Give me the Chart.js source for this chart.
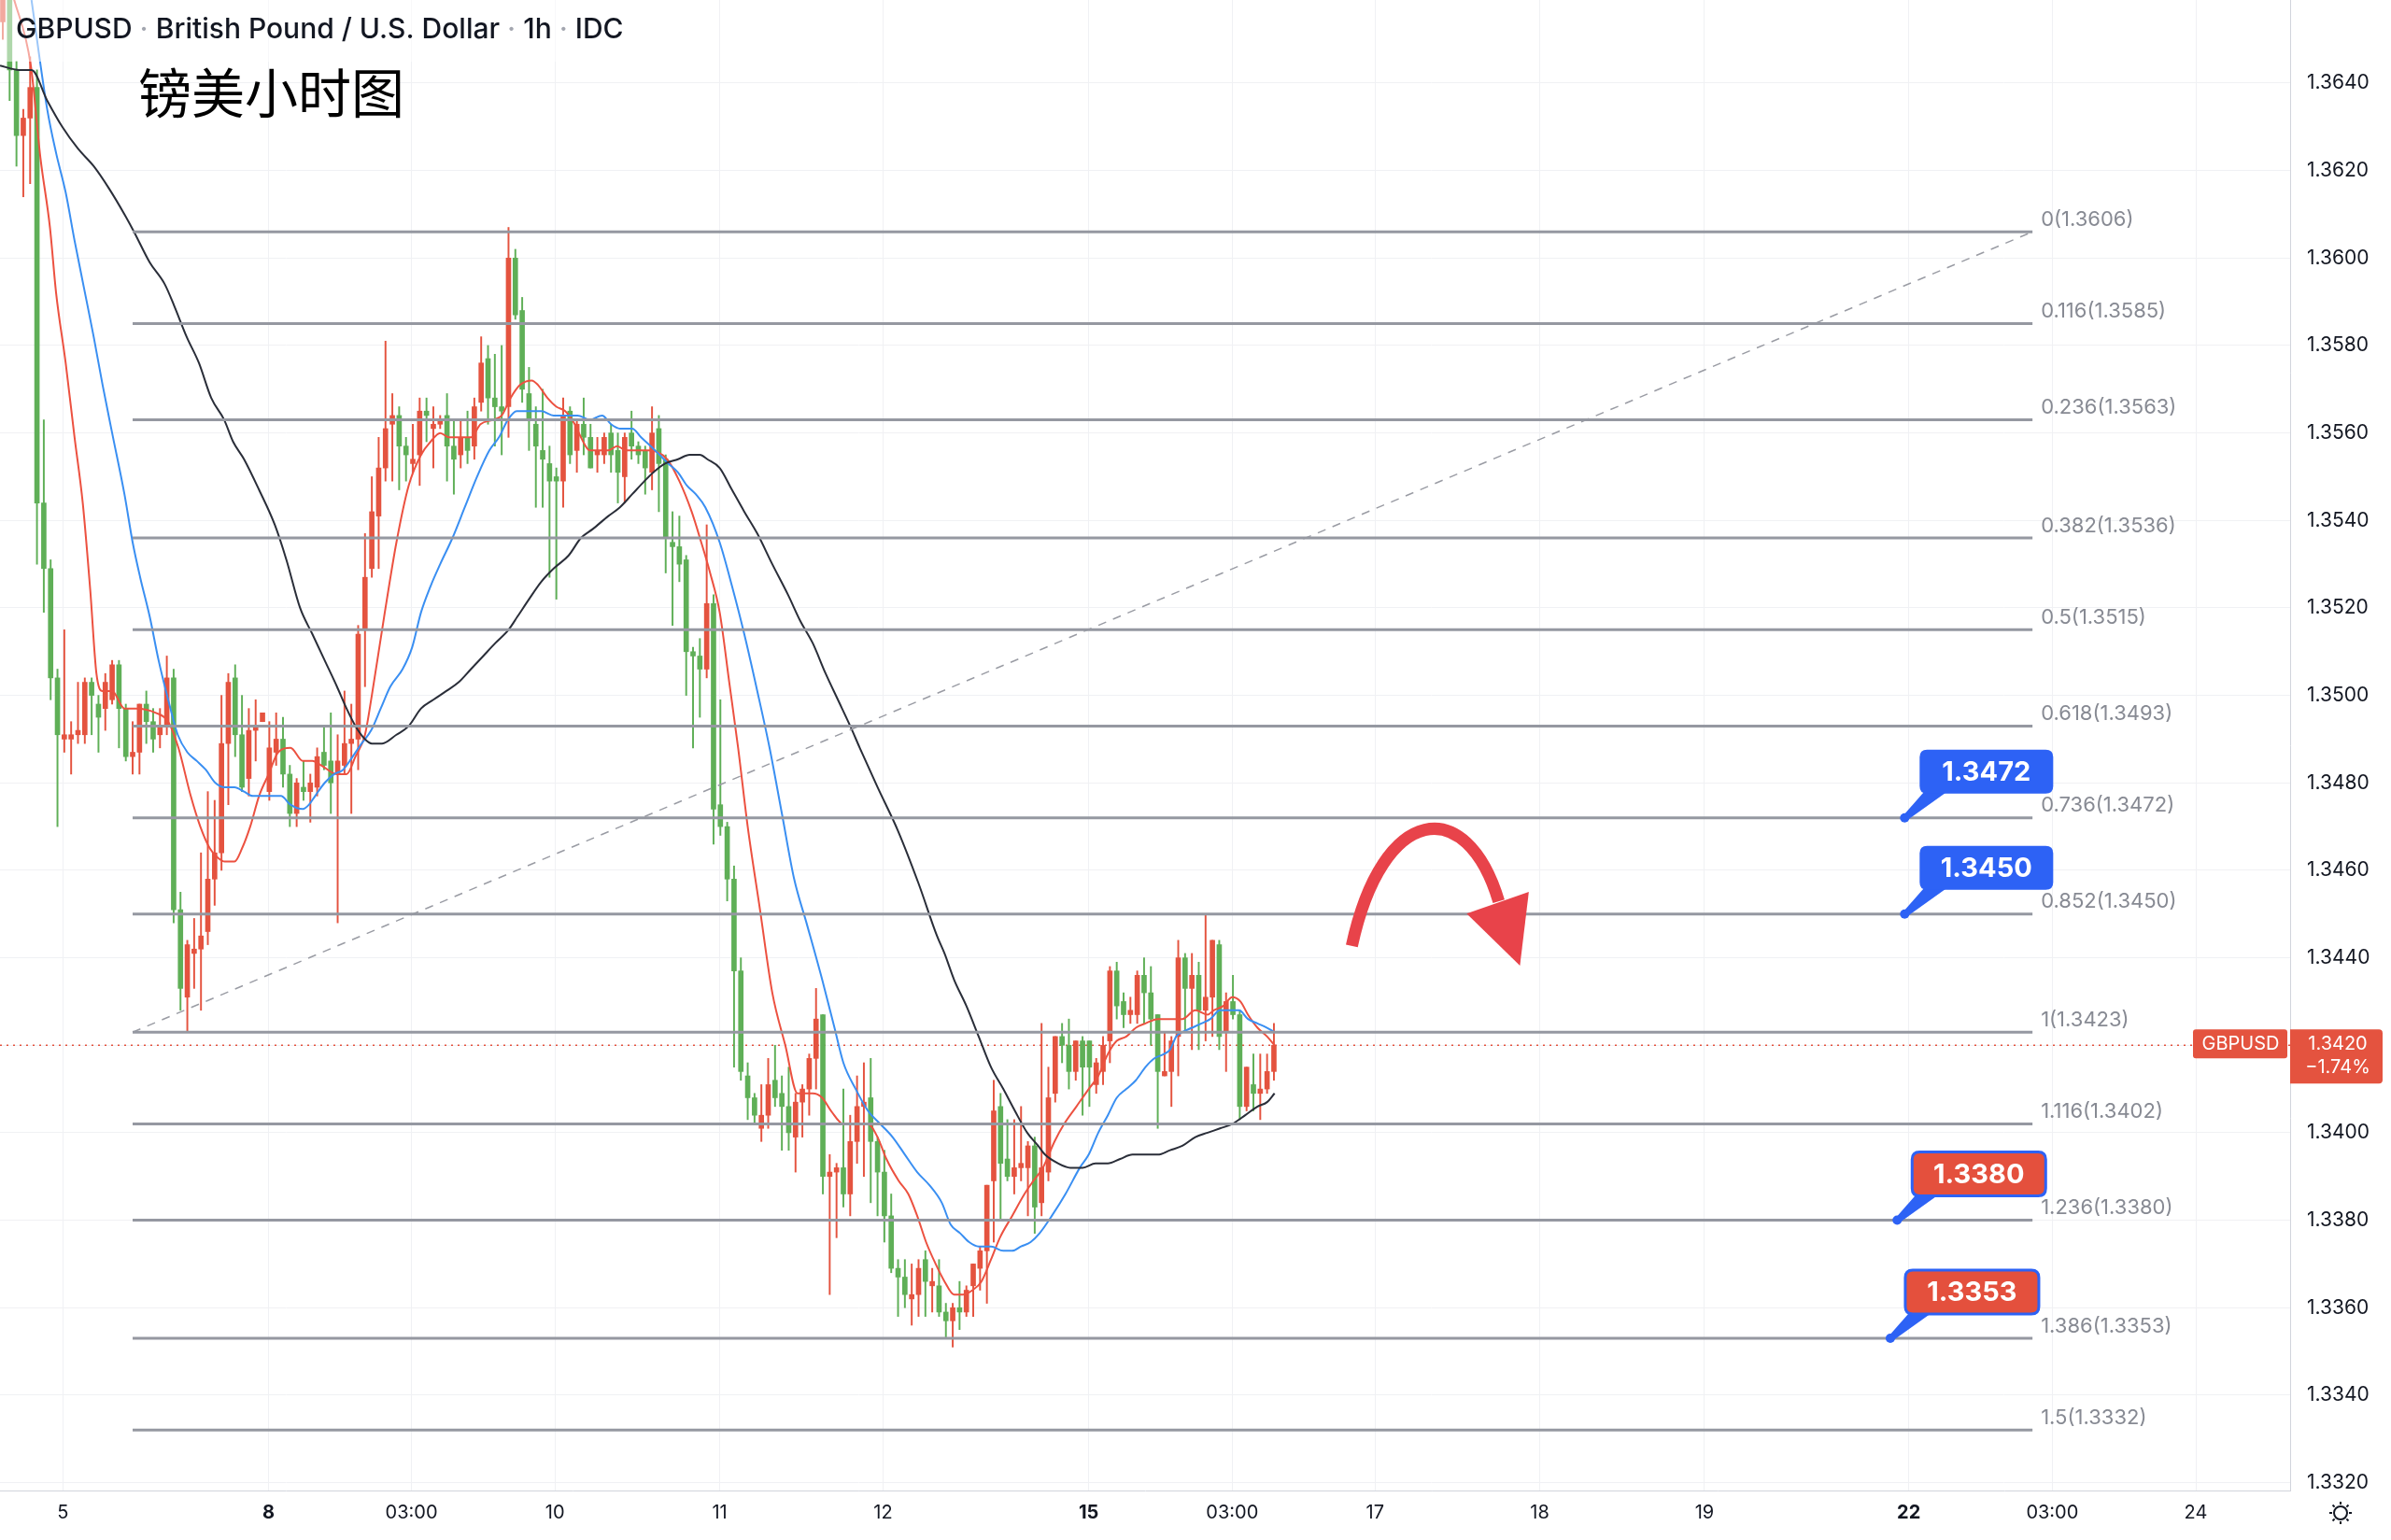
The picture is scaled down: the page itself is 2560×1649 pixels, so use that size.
<!DOCTYPE html>
<html>
<head>
<meta charset="utf-8">
<script src="https://cdn.jsdelivr.net/npm/chart.js@4.4.0/dist/chart.umd.min.js"></script>
<style>
  html, body { margin: 0; padding: 0; background: #fff; }
  #wrap { width: 2560px; height: 1649px; position: relative; }
  canvas { display: block; }
</style>
</head>
<body>
<div id="wrap"><canvas id="chart" width="2560" height="1649"></canvas></div>
<script>
// ── GBPUSD 1h ────────────────────────────────────────────────────────────
const candleOpen = [
  1.3654,1.3659,1.3643,1.3628,1.3632,1.3639,1.3544,1.3529,1.3504,1.3490,
  1.3490,1.3491,1.3491,1.3503,1.3498,1.3497,1.3499,1.3507,1.3497,1.3486,
  1.3487,1.3498,1.3494,1.3491,1.3493,1.3504,1.3451,1.3431,1.3441,1.3442,
  1.3446,1.3458,1.3464,1.3489,1.3504,1.3491,1.3481,1.3492,1.3494,1.3478,
  1.3487,1.3490,1.3482,1.3473,1.3479,1.3478,1.3479,1.3487,1.3485,1.3482,
  1.3484,1.3489,1.3490,1.3515,1.3529,1.3541,1.3552,1.3562,1.3564,1.3557,
  1.3553,1.3555,1.3565,1.3561,1.3562,1.3564,1.3557,1.3555,1.3559,1.3557,
  1.3567,1.3577,1.3568,1.3566,1.3566,1.3600,1.3588,1.3569,1.3562,1.3556,
  1.3553,1.3550,1.3549,1.3565,1.3556,1.3562,1.3559,1.3555,1.3555,1.3560,
  1.3556,1.3550,1.3560,1.3557,1.3556,1.3551,1.3561,1.3554,1.3535,1.3534,
  1.3531,1.3510,1.3509,1.3506,1.3521,1.3475,1.3470,1.3458,1.3437,1.3413,
  1.3408,1.3401,1.3404,1.3412,1.3409,1.3406,1.3399,1.3407,1.3410,1.3417,
  1.3427,1.3390,1.3391,1.3392,1.3386,1.3398,1.3406,1.3408,1.3398,1.3391,
  1.3381,1.3369,1.3367,1.3362,1.3363,1.3371,1.3365,1.3365,1.3359,1.3357,
  1.3360,1.3359,1.3365,1.3369,1.3373,1.3389,1.3406,1.3394,1.3390,1.3392,
  1.3392,1.3397,1.3384,1.3391,1.3409,1.3422,1.3420,1.3414,1.3421,1.3421,
  1.3411,1.3414,1.3421,1.3437,1.3430,1.3427,1.3427,1.3436,1.3432,1.3427,
  1.3413,1.3414,1.3422,1.3440,1.3433,1.3436,1.3428,1.3431,1.3443,1.3423,
  1.3430,1.3427,1.3406,1.3411,1.3409,1.3410,1.3414
];
const candleHigh = [
  1.3665,1.3662,1.3645,1.3634,1.3646,1.3643,1.3563,1.3531,1.3506,1.3515,
  1.3494,1.3503,1.3504,1.3504,1.3500,1.3505,1.3508,1.3508,1.3498,1.3494,
  1.3498,1.3501,1.3497,1.3497,1.3509,1.3506,1.3455,1.3444,1.3449,1.3464,
  1.3478,1.3476,1.3500,1.3505,1.3507,1.3500,1.3497,1.3499,1.3496,1.3494,
  1.3496,1.3495,1.3484,1.3481,1.3485,1.3482,1.3488,1.3493,1.3496,1.3491,
  1.3501,1.3498,1.3516,1.3537,1.3550,1.3559,1.3581,1.3569,1.3566,1.3559,
  1.3562,1.3568,1.3568,1.3566,1.3564,1.3569,1.3563,1.3563,1.3565,1.3568,
  1.3582,1.3580,1.3578,1.3580,1.3607,1.3602,1.3591,1.3575,1.3566,1.3570,
  1.3557,1.3552,1.3568,1.3566,1.3563,1.3568,1.3562,1.3559,1.3560,1.3562,
  1.3560,1.3560,1.3565,1.3558,1.3557,1.3566,1.3564,1.3555,1.3542,1.3541,
  1.3532,1.3511,1.3513,1.3539,1.3523,1.3499,1.3471,1.3461,1.3440,1.3416,
  1.3409,1.3411,1.3417,1.3420,1.3413,1.3415,1.3409,1.3411,1.3418,1.3433,
  1.3427,1.3395,1.3393,1.3410,1.3404,1.3413,1.3416,1.3417,1.3399,1.3396,
  1.3386,1.3371,1.3371,1.3370,1.3371,1.3373,1.3369,1.3371,1.3361,1.3361,
  1.3366,1.3365,1.3370,1.3374,1.3388,1.3412,1.3409,1.3403,1.3403,1.3406,
  1.3398,1.3399,1.3425,1.3415,1.3422,1.3425,1.3426,1.3421,1.3422,1.3421,
  1.3417,1.3422,1.3438,1.3439,1.3432,1.3431,1.3437,1.3440,1.3438,1.3427,
  1.3423,1.3422,1.3444,1.3441,1.3441,1.3439,1.3450,1.3444,1.3444,1.3432,
  1.3436,1.3428,1.3415,1.3418,1.3418,1.3418,1.3425
];
const candleLow = [
  1.3650,1.3636,1.3621,1.3614,1.3617,1.3530,1.3519,1.3499,1.3470,1.3487,
  1.3482,1.3489,1.3489,1.3491,1.3487,1.3492,1.3498,1.3488,1.3485,1.3482,
  1.3482,1.3489,1.3487,1.3488,1.3491,1.3448,1.3428,1.3423,1.3433,1.3428,
  1.3443,1.3452,1.3460,1.3475,1.3486,1.3478,1.3477,1.3485,1.3494,1.3476,
  1.3484,1.3479,1.3470,1.3470,1.3476,1.3471,1.3477,1.3483,1.3473,1.3448,
  1.3482,1.3473,1.3483,1.3502,1.3527,1.3529,1.3549,1.3549,1.3547,1.3549,
  1.3551,1.3548,1.3558,1.3552,1.3561,1.3549,1.3546,1.3552,1.3553,1.3554,
  1.3565,1.3562,1.3557,1.3555,1.3559,1.3586,1.3567,1.3556,1.3543,1.3543,
  1.3527,1.3522,1.3543,1.3553,1.3551,1.3555,1.3552,1.3551,1.3553,1.3551,
  1.3544,1.3544,1.3554,1.3553,1.3546,1.3547,1.3542,1.3528,1.3516,1.3526,
  1.3500,1.3488,1.3495,1.3504,1.3466,1.3468,1.3453,1.3415,1.3412,1.3403,
  1.3402,1.3398,1.3401,1.3406,1.3396,1.3396,1.3391,1.3399,1.3404,1.3410,
  1.3386,1.3363,1.3376,1.3383,1.3381,1.3393,1.3390,1.3384,1.3381,1.3375,
  1.3368,1.3358,1.3360,1.3356,1.3358,1.3358,1.3359,1.3358,1.3353,1.3351,
  1.3355,1.3358,1.3358,1.3364,1.3361,1.3375,1.3380,1.3389,1.3386,1.3389,
  1.3381,1.3377,1.3381,1.3389,1.3407,1.3416,1.3410,1.3412,1.3404,1.3406,
  1.3409,1.3411,1.3416,1.3426,1.3424,1.3425,1.3425,1.3425,1.3420,1.3401,
  1.3413,1.3406,1.3413,1.3423,1.3419,1.3419,1.3421,1.3422,1.3419,1.3414,
  1.3426,1.3403,1.3405,1.3405,1.3403,1.3409,1.3412
];
const candleClose = [
  1.3659,1.3643,1.3628,1.3632,1.3639,1.3544,1.3529,1.3504,1.3491,1.3491,
  1.3491,1.3492,1.3503,1.3500,1.3495,1.3503,1.3507,1.3497,1.3486,1.3487,
  1.3498,1.3494,1.3490,1.3493,1.3504,1.3451,1.3433,1.3443,1.3442,1.3445,
  1.3458,1.3464,1.3489,1.3503,1.3491,1.3479,1.3492,1.3493,1.3496,1.3488,
  1.3490,1.3482,1.3473,1.3480,1.3478,1.3480,1.3486,1.3484,1.3480,1.3485,
  1.3489,1.3490,1.3514,1.3527,1.3542,1.3552,1.3561,1.3564,1.3557,1.3555,
  1.3554,1.3565,1.3564,1.3562,1.3563,1.3557,1.3554,1.3559,1.3556,1.3566,
  1.3576,1.3568,1.3566,1.3565,1.3600,1.3587,1.3570,1.3563,1.3557,1.3554,
  1.3549,1.3549,1.3564,1.3555,1.3562,1.3559,1.3552,1.3556,1.3559,1.3555,
  1.3551,1.3559,1.3557,1.3555,1.3552,1.3560,1.3553,1.3536,1.3534,1.3530,
  1.3510,1.3509,1.3506,1.3521,1.3474,1.3470,1.3458,1.3437,1.3414,1.3408,
  1.3404,1.3404,1.3411,1.3408,1.3406,1.3400,1.3407,1.3410,1.3417,1.3426,
  1.3390,1.3391,1.3392,1.3386,1.3398,1.3406,1.3407,1.3398,1.3391,1.3381,
  1.3369,1.3367,1.3363,1.3363,1.3369,1.3366,1.3366,1.3359,1.3357,1.3360,
  1.3359,1.3364,1.3370,1.3373,1.3388,1.3405,1.3393,1.3390,1.3392,1.3393,
  1.3397,1.3383,1.3392,1.3408,1.3422,1.3420,1.3414,1.3421,1.3415,1.3415,
  1.3416,1.3420,1.3437,1.3429,1.3427,1.3428,1.3436,1.3432,1.3426,1.3414,
  1.3414,1.3421,1.3440,1.3433,1.3436,1.3428,1.3431,1.3444,1.3422,1.3430,
  1.3427,1.3406,1.3415,1.3409,1.3410,1.3414,1.3420
];

// moving averages, [bar, price] points
const maFast = [
  [1.5,1.3660],[4.1,1.3644],[5.5,1.3623],[6.9,1.3607],[7.8,1.3592],[9.2,1.3576],[10.5,1.3559],
  [11.7,1.3544],[12.8,1.3524],[13.7,1.3505],[14.6,1.3501],[16,1.3501],[17.8,1.3497],[19.6,1.3497],
  [22.4,1.3496],[24.2,1.3494],[25.7,1.3488],[27.5,1.3477],[28.9,1.3470],[30.3,1.3465],[31.4,1.3463],
  [32.5,1.3462],[33.9,1.3462],[35,1.3465],[36.2,1.3470],[37.5,1.3477],[38.9,1.3482],[40.3,1.3487],
  [42.1,1.3488],[43.9,1.3485],[45.3,1.3485],[46.6,1.3484],[48.9,1.3482],[50.3,1.3482],[51.6,1.3486],
  [53,1.3491],[54,1.3500],[55.8,1.3518],[57.6,1.3535],[59.4,1.3548],[61.2,1.3555],[62.6,1.3558],
  [64,1.3560],[65.3,1.3559],[67.1,1.3559],[68.5,1.3559],[69.9,1.3562],[71.7,1.3563],[73,1.3564],
  [74.3,1.3568],[75.7,1.3571],[77.4,1.3572],[78.3,1.3571],[79.7,1.3568],[81,1.3566],[82.3,1.3565],
  [83.7,1.3562],[84.6,1.3559],[85.9,1.3556],[87.2,1.3556],[88.6,1.3556],[89.9,1.3557],[91.2,1.3556],
  [92.6,1.3556],[94.5,1.3556],[97.2,1.3554],[99,1.3549],[100.8,1.3542],[102.2,1.3535],[103.5,1.3528],
  [104.9,1.3519],[106.3,1.3503],[107.6,1.3488],[109,1.3470],[110.8,1.3451],[112.6,1.3432],[114.5,1.3420],
  [116.3,1.3409],[118.5,1.3409],[119.9,1.3408],[121.2,1.3405],[123,1.3402],[124.8,1.3402],[126.6,1.3402],
  [128,1.3399],[129.3,1.3394],[131.1,1.3389],[132.5,1.3386],[133.8,1.3381],[135.1,1.3375],[136.5,1.3370],
  [137.8,1.3366],[139.2,1.3363],[140.5,1.3363],[141.9,1.3364],[143.2,1.3366],[144.6,1.3371],[145.9,1.3376],
  [147.7,1.3381],[149.5,1.3386],[150.8,1.3389],[152.2,1.3392],[153.9,1.3398],[155.3,1.3402],[157.1,1.3406],
  [158.9,1.3410],[160.3,1.3413],[161.7,1.3418],[163,1.3421],[164.4,1.3422],[165.8,1.3424],[167.2,1.3425],
  [169,1.3426],[170.8,1.3426],[172.6,1.3426],[174.5,1.3428],[176.3,1.3427],[177.2,1.3428],[178.6,1.3429],
  [179.9,1.3431],[181.1,1.3430],[182.2,1.3427],[183.6,1.3424],[185,1.3422],[186.1,1.3420]
];
const maMid = [
  [4.2,1.3659],[6.5,1.3634],[7.8,1.3624],[9.2,1.3615],[10.5,1.3604],[11.9,1.3593],[13.3,1.3582],
  [14.6,1.3571],[16,1.3560],[17.8,1.3546],[19,1.3535],[20.1,1.3527],[21.5,1.3518],[22.8,1.3508],
  [24.2,1.3499],[25.6,1.3491],[27,1.3487],[28.4,1.3485],[29.7,1.3483],[31.1,1.3480],[32.5,1.3479],
  [33.9,1.3479],[35.3,1.3478],[36.6,1.3477],[38,1.3477],[39.4,1.3477],[40.7,1.3477],[42.1,1.3475],
  [43.9,1.3474],[44.8,1.3475],[45.7,1.3477],[47.1,1.3480],[48.5,1.3482],[49.8,1.3483],[51.2,1.3486],
  [52.5,1.3489],[53.9,1.3492],[55.3,1.3497],[56.7,1.3502],[58.5,1.3506],[59.9,1.3511],[61.2,1.3519],
  [62.6,1.3525],[64,1.3530],[65.8,1.3536],[67.6,1.3543],[69.4,1.3550],[71.2,1.3556],[72.6,1.3559],
  [73.9,1.3563],[75.2,1.3565],[77,1.3565],[78.8,1.3565],[80.6,1.3564],[82.3,1.3564],[84.1,1.3564],
  [85.9,1.3563],[87.7,1.3564],[89,1.3562],[90.3,1.3561],[92.1,1.3561],[93.4,1.3559],[94.8,1.3557],
  [96.1,1.3555],[97.4,1.3553],[98.8,1.3551],[100.1,1.3548],[101.4,1.3546],[102.8,1.3543],[104.9,1.3535],
  [106.7,1.3525],[108.5,1.3514],[110.4,1.3501],[112.2,1.3488],[114,1.3473],[115.8,1.3458],[117.6,1.3448],
  [119.9,1.3435],[121.7,1.3424],[123,1.3416],[124.8,1.3410],[126.6,1.3405],[128.4,1.3402],[130.2,1.3399],
  [132,1.3395],[133.8,1.3391],[135.6,1.3388],[137.4,1.3384],[138.7,1.3379],[140.1,1.3377],[141.4,1.3375],
  [142.8,1.3374],[144.6,1.3374],[146.4,1.3373],[147.7,1.3373],[149,1.3374],[150.4,1.3375],[151.7,1.3377],
  [153.5,1.3381],[155.5,1.3386],[157.6,1.3392],[158.9,1.3395],[160.3,1.3400],[161.7,1.3404],[163,1.3408],
  [164.4,1.3410],[165.8,1.3412],[167.2,1.3415],[168.5,1.3417],[169.9,1.3418],[170.8,1.3419],[171.7,1.3422],
  [172.6,1.3423],[174,1.3424],[175.4,1.3425],[176.7,1.3426],[178.1,1.3428],[179.5,1.3428],[180.9,1.3428],
  [182.2,1.3426],[183.6,1.3425],[185,1.3424],[186.1,1.3423]
];
const maSlow = [
  [-0.4,1.3644],[2.4,1.3643],[4.2,1.3643],[6.5,1.3636],[8.7,1.3630],[11,1.3625],[13.3,1.3621],
  [15.5,1.3616],[17.8,1.3610],[19.2,1.3606],[21.5,1.3599],[23.7,1.3594],[25.1,1.3589],[26.9,1.3582],
  [28.7,1.3576],[30.5,1.3568],[32.4,1.3563],[33.7,1.3558],[35.3,1.3554],[37.5,1.3547],[39.8,1.3539],
  [41.5,1.3531],[43.5,1.3520],[45.3,1.3514],[47.1,1.3508],[48.9,1.3502],[50.3,1.3497],[51.6,1.3493],
  [53,1.3490],[54,1.3489],[55.5,1.3489],[57.6,1.3491],[59.4,1.3493],[61.2,1.3497],[63,1.3499],
  [64.9,1.3501],[66.7,1.3503],[68.5,1.3506],[70.3,1.3509],[72.1,1.3512],[74,1.3515],[75.3,1.3518],
  [77,1.3522],[78.8,1.3526],[80.6,1.3529],[82.8,1.3532],[84.6,1.3536],[86.3,1.3538],[88.6,1.3541],
  [90.3,1.3543],[92.1,1.3546],[93.9,1.3549],[95.2,1.3551],[96.9,1.3553],[98.8,1.3554],[100.5,1.3555],
  [102,1.3555],[103.1,1.3554],[104.9,1.3552],[106.7,1.3547],[108.5,1.3542],[110.4,1.3537],[112.6,1.3530],
  [114.9,1.3523],[116.7,1.3517],[118.5,1.3512],[120.4,1.3505],[122.2,1.3499],[124,1.3493],[125.4,1.3488],
  [128,1.3479],[131,1.3469],[134,1.3457],[136.7,1.3445],[137.8,1.3441],[139.2,1.3435],[141,1.3429],
  [142.8,1.3422],[144.6,1.3415],[146.4,1.3410],[148.1,1.3405],[149.9,1.3400],[151.5,1.3397],[152.5,1.3395],
  [154.4,1.3393],[156.2,1.3392],[158,1.3392],[159.9,1.3393],[161.7,1.3393],[163.5,1.3394],[165.3,1.3395],
  [167.2,1.3395],[169,1.3395],[170.8,1.3396],[172.6,1.3397],[174.5,1.3399],[176.3,1.3400],[178.1,1.3401],
  [179.9,1.3402],[181.8,1.3404],[183.6,1.3406],[185,1.3407],[186.1,1.3409]
];

// fib retracement drawing
const fibRatios = ['0','0.116','0.236','0.382','0.5','0.618','0.736','0.852','1','1.116','1.236','1.386','1.5'];
const fibPrices = [1.3606,1.3585,1.3563,1.3536,1.3515,1.3493,1.3472,1.3450,1.3423,1.3402,1.3380,1.3353,1.3332];
const fibStartBar = 19, fibEndBar = 297;

// price callouts
const calloutPrices = [1.3472, 1.3450, 1.3380, 1.3353];
const calloutBars = [278.3, 278.3, 277.2, 276.2];
const calloutKinds = ['blue', 'blue', 'red', 'red'];

// hand-drawn arrow: start, two controls, end, then the head triangle
const arrowCurve = [[197.4,1.34427],[201.9,1.34753],[214.2,1.34775],[218.9,1.34529]];
const arrowHead = [[214.2,1.34501],[223.3,1.34551],[222.0,1.34382]];

// axes
const xTickPos = [8.8,38.9,59.8,80.8,104.9,128.8,158.9,179.9,200.8,224.9,249.0,278.9,299.9,320.9];
const xTickLabels = ['5','8','03:00','10','11','12','15','03:00','17','18','19','22','03:00','24'];
const xTickBold = [false,true,false,false,false,false,true,false,false,false,false,true,false,false];
const yTicks = [1.3640,1.3620,1.3600,1.3580,1.3560,1.3540,1.3520,1.3500,1.3480,1.3460,1.3440,1.3420,1.3400,1.3380,1.3360,1.3340,1.3320];

const lastPrice = 1.3420;
const lastChange = '\u22121.74%';
const symbol = 'GBPUSD';

// ── styling ──────────────────────────────────────────────────────────────
const UP = '#e4533f', DOWN = '#5faf57';
const BLUE = '#2d62f5';
const FIB = '#9598a1';
const FONT = "Inter, 'Noto Sans', sans-serif";
Chart.defaults.font.family = FONT;

const candleColors = candleOpen.map((o, i) => candleClose[i] >= o ? UP : DOWN);
const bodyData = candleOpen.map((o, i) => ({ x: i, y: [o, candleClose[i]] }));
const wickData = candleOpen.map((o, i) => ({ x: i, y: [candleLow[i], candleHigh[i]] }));
const toPts = arr => arr.map(p => ({ x: p[0], y: p[1] }));

const X_MIN = -0.41, X_MAX = 334.7;

const datasets = [];
fibPrices.forEach(p => {
  datasets.push({
    type: 'line', data: [{ x: fibStartBar, y: p }, { x: fibEndBar, y: p }],
    borderColor: FIB, borderWidth: 3, pointRadius: 0, order: 1
  });
});
datasets.push({
  type: 'line', data: [{ x: fibStartBar, y: fibPrices[8] }, { x: fibEndBar, y: fibPrices[0] }],
  borderColor: '#9a9ca4', borderWidth: 1.5, borderDash: [9, 8], pointRadius: 0, order: 1
});
[[maSlow, '#2a2e39'], [maMid, '#3a8ff2'], [maFast, '#ec5140']].forEach(([d, c]) => {
  datasets.push({
    type: 'line', data: toPts(d), borderColor: c, borderWidth: 2, pointRadius: 0,
    cubicInterpolationMode: 'monotone', order: 2
  });
});
datasets.push({
  type: 'bar', data: bodyData, backgroundColor: candleColors, barThickness: 5,
  grouped: false, order: 3
});
datasets.push({
  type: 'bar', data: wickData, backgroundColor: candleColors, barThickness: 1.3,
  grouped: false, order: 4
});
datasets.push({
  type: 'line', data: [{ x: X_MIN, y: lastPrice }, { x: X_MAX, y: lastPrice }],
  borderColor: UP, borderWidth: 1.5, borderDash: [2, 5], pointRadius: 0, order: 5
});

function rr(ctx, x, y, w, h, r) {
  const [tl, tr, br, bl] = Array.isArray(r) ? r : [r, r, r, r];
  ctx.beginPath();
  ctx.moveTo(x + tl, y);
  ctx.lineTo(x + w - tr, y); ctx.quadraticCurveTo(x + w, y, x + w, y + tr);
  ctx.lineTo(x + w, y + h - br); ctx.quadraticCurveTo(x + w, y + h, x + w - br, y + h);
  ctx.lineTo(x + bl, y + h); ctx.quadraticCurveTo(x, y + h, x, y + h - bl);
  ctx.lineTo(x, y + tl); ctx.quadraticCurveTo(x, y, x + tl, y);
  ctx.closePath();
}

const drawings = {
  id: 'drawings',
  afterDatasetsDraw(chart) {
    const { ctx, scales: { x, y } } = chart;
    ctx.save();

    // fib level labels
    ctx.font = '22px ' + FONT;
    ctx.fillStyle = '#878a93';
    ctx.textAlign = 'left';
    ctx.textBaseline = 'middle';
    fibRatios.forEach((r, k) => {
      ctx.fillText(`${r}(${fibPrices[k].toFixed(4)})`,
        x.getPixelForValue(fibEndBar) + 9, y.getPixelForValue(fibPrices[k]) - 13);
    });

    // red arrow
    const P = arrowCurve.map(p => [x.getPixelForValue(p[0]), y.getPixelForValue(p[1])]);
    ctx.strokeStyle = '#e8434a';
    ctx.lineWidth = 13;
    ctx.beginPath();
    ctx.moveTo(P[0][0], P[0][1]);
    ctx.bezierCurveTo(P[1][0], P[1][1], P[2][0], P[2][1], P[3][0], P[3][1]);
    ctx.stroke();
    ctx.fillStyle = '#e8434a';
    ctx.beginPath();
    arrowHead.forEach((p, k) => {
      const px = x.getPixelForValue(p[0]), py = y.getPixelForValue(p[1]);
      k ? ctx.lineTo(px, py) : ctx.moveTo(px, py);
    });
    ctx.closePath();
    ctx.fill();

    // callouts
    calloutPrices.forEach((p, k) => {
      const px = x.getPixelForValue(calloutBars[k]), py = y.getPixelForValue(p);
      const bw = 143, bh = 47, bx = px + 16, by = py - 26 - bh;
      ctx.fillStyle = BLUE;
      ctx.beginPath();
      ctx.moveTo(px - 2, py - 2);
      ctx.lineTo(bx + 4, by + bh - 1);
      ctx.lineTo(bx + 28, by + bh - 1);
      ctx.lineTo(px + 2, py + 3);
      ctx.closePath();
      ctx.fill();
      rr(ctx, bx, by, bw, bh, 8);
      ctx.fillStyle = calloutKinds[k] === 'red' ? '#e4503d' : BLUE;
      ctx.fill();
      if (calloutKinds[k] === 'red') { ctx.lineWidth = 3; ctx.strokeStyle = BLUE; ctx.stroke(); }
      ctx.beginPath();
      ctx.arc(px, py, 5, 0, Math.PI * 2);
      ctx.fillStyle = BLUE;
      ctx.fill();
      ctx.fillStyle = '#fff';
      ctx.font = 'bold 29px ' + FONT;
      ctx.textAlign = 'center';
      ctx.textBaseline = 'middle';
      ctx.fillText(p.toFixed(4), bx + bw / 2, by + bh / 2 + 1);
    });
    ctx.restore();
  },
  afterDraw(chart) {
    const { ctx, scales: { y } } = chart;
    ctx.save();

    // last price tags
    const ly = y.getPixelForValue(lastPrice);
    ctx.fillStyle = UP;
    rr(ctx, y.left - 104, ly - 17, 101, 31, 3); ctx.fill();
    rr(ctx, y.left, ly - 17, 99, 58, [0, 4, 4, 0]); ctx.fill();
    ctx.fillStyle = '#fff';
    ctx.font = '20px ' + FONT;
    ctx.textAlign = 'center';
    ctx.textBaseline = 'middle';
    ctx.fillText(symbol, y.left - 53, ly - 1);
    ctx.fillText(lastPrice.toFixed(4), y.left + 51, ly - 1);
    ctx.fillText(lastChange, y.left + 51, ly + 24);

    // legend
    ctx.fillStyle = 'rgba(255,255,255,0.5)';
    ctx.fillRect(0, 0, 690, 66);
    const parts = [[symbol, '#131722'], [' \u00b7 ', '#a3a6af'], ['British Pound / U.S. Dollar', '#131722'],
      [' \u00b7 ', '#a3a6af'], ['1h', '#131722'], [' \u00b7 ', '#a3a6af'], ['IDC', '#131722']];
    ctx.font = '500 30px ' + FONT;
    ctx.textAlign = 'left';
    ctx.textBaseline = 'middle';
    let tx = 17;
    parts.forEach(([t, c]) => { ctx.fillStyle = c; ctx.fillText(t, tx, 32); tx += ctx.measureText(t).width; });

    ctx.fillStyle = '#000';
    ctx.font = "57px 'Noto Sans CJK SC', sans-serif";
    ctx.fillText('镑美小时图', 148, 99);

    // settings gear
    const gx = 2506, gy = 1620;
    ctx.strokeStyle = '#131722';
    ctx.lineWidth = 2;
    ctx.beginPath(); ctx.arc(gx, gy, 7, 0, Math.PI * 2); ctx.stroke();
    for (let a = 0; a < 8; a++) {
      const t = a * Math.PI / 4;
      ctx.beginPath();
      ctx.moveTo(gx + Math.cos(t) * 9, gy + Math.sin(t) * 9);
      ctx.lineTo(gx + Math.cos(t) * 12, gy + Math.sin(t) * 12);
      ctx.stroke();
    }
    ctx.restore();
  }
};

new Chart(document.getElementById('chart'), {
  data: { datasets },
  options: {
    responsive: false,
    animation: false,
    devicePixelRatio: 1,
    layout: { padding: 0, autoPadding: false },
    plugins: { legend: { display: false }, tooltip: { enabled: false } },
    scales: {
      x: {
        type: 'linear', min: X_MIN, max: X_MAX, offset: false,
        grid: { color: '#f0f1f4', offset: false, drawTicks: false },
        border: { color: '#d1d4dc' },
        afterBuildTicks: s => { s.ticks = xTickPos.map(v => ({ value: v })); },
        afterFit: s => { s.height = 53; s.paddingLeft = 0; s.paddingRight = 0; },
        ticks: {
          autoSkip: false, maxRotation: 0, minRotation: 0, padding: 12, color: '#131722',
          font: c => ({ size: 20, weight: xTickBold[c.index] ? 'bold' : 'normal' }),
          callback: (v, i) => xTickLabels[i]
        }
      },
      y: {
        type: 'linear', position: 'right', min: 1.33182, max: 1.36590,
        grid: { color: '#f0f1f4', drawTicks: false },
        border: { color: '#d1d4dc' },
        afterBuildTicks: s => { s.ticks = yTicks.map(v => ({ value: v })); },
        afterFit: s => { s.width = 108; s.paddingTop = 0; s.paddingBottom = 0; },
        ticks: {
          padding: 18, color: '#131722', font: { size: 21 },
          callback: v => v.toFixed(4)
        }
      }
    }
  },
  plugins: [drawings]
});
</script>
</body>
</html>
